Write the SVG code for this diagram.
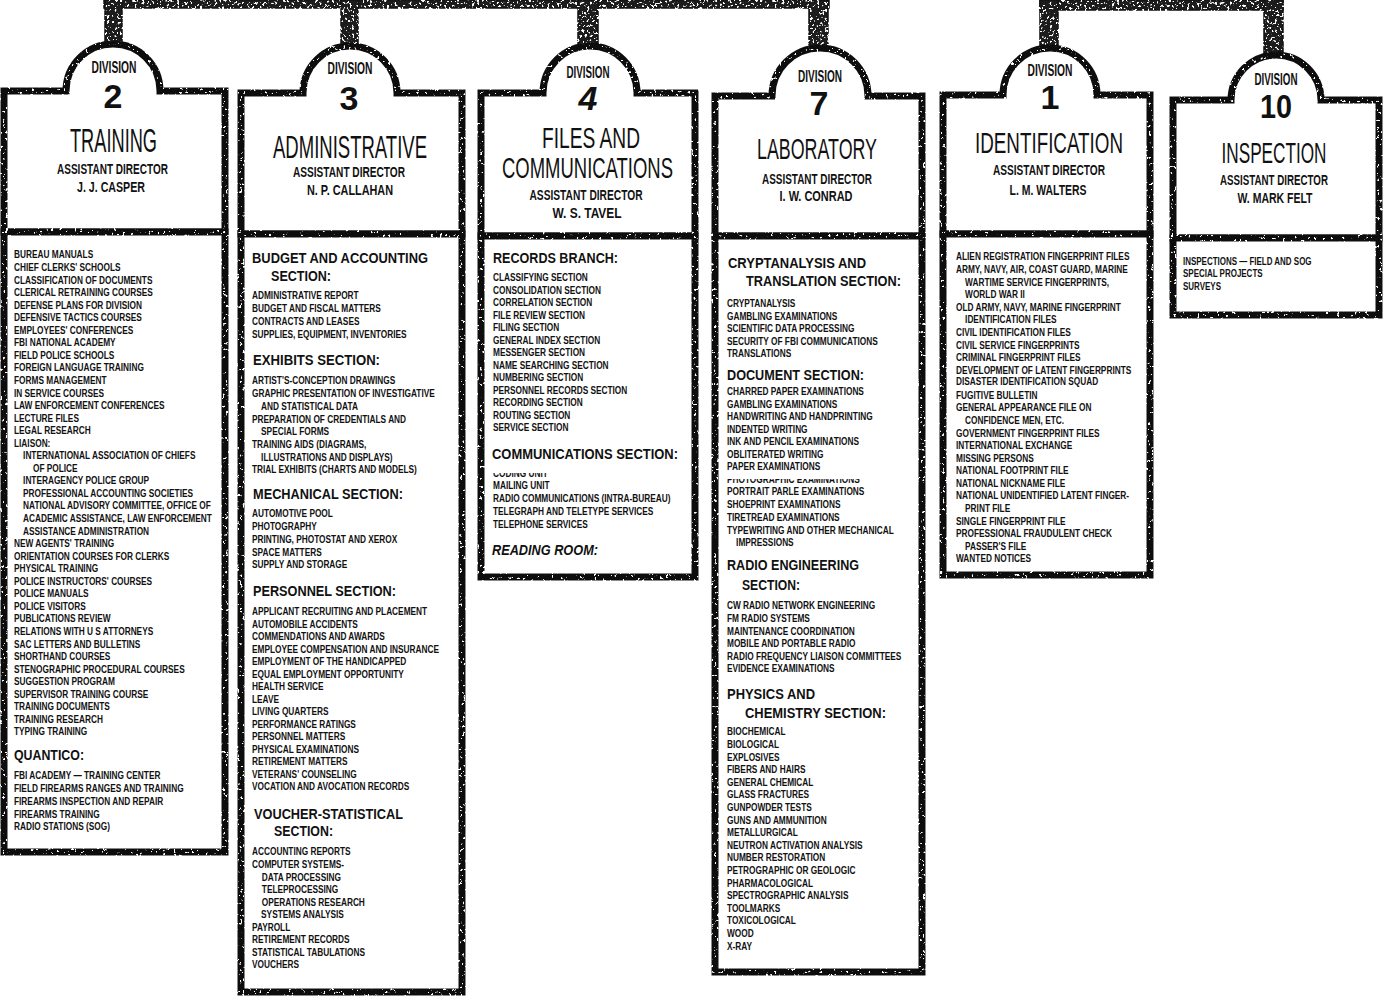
<svg xmlns="http://www.w3.org/2000/svg" width="1383" height="996" viewBox="0 0 1383 996">
<defs>
<style>
.frame{fill:#fff;stroke:#111;stroke-width:7;stroke-linejoin:miter;filter:url(#grit)}
.conn{fill:#1c1c1c;stroke:#111;stroke-width:1.5;filter:url(#grit2)}
.dv{font-family:"Liberation Sans",Arial,sans-serif;font-weight:bold;font-size:16px;text-anchor:middle;fill:#111}
.num{font-family:"Liberation Sans",Arial,sans-serif;font-weight:bold;font-size:34px;text-anchor:middle;fill:#111}
.ttl{font-family:"Liberation Sans",Arial,sans-serif;font-size:31px;text-anchor:middle;fill:#111}
.ad{font-family:"Liberation Sans",Arial,sans-serif;font-weight:bold;font-size:14px;text-anchor:middle;fill:#111}
.hd{font-family:"Liberation Sans",Arial,sans-serif;font-weight:bold;font-size:14px;fill:#111}
.li{font-family:"Liberation Sans",Arial,sans-serif;font-weight:bold;font-size:10.5px;fill:#111}
</style>
<filter id="grit">
<feTurbulence type="fractalNoise" baseFrequency="0.35" numOctaves="2" seed="4" result="n"/>
<feColorMatrix in="n" type="matrix" values="0 0 0 0 0  0 0 0 0 0  0 0 0 0 0  -16 0 0 0 11.4" result="m"/>
<feComposite in="SourceGraphic" in2="m" operator="in"/>
</filter>
<filter id="grit2">
<feTurbulence type="fractalNoise" baseFrequency="0.4" numOctaves="2" seed="9" result="n"/>
<feColorMatrix in="n" type="matrix" values="0 0 0 0 0  0 0 0 0 0  0 0 0 0 0  -14 0 0 0 9.3" result="m"/>
<feComposite in="SourceGraphic" in2="m" operator="in"/>
</filter>
<clipPath id="cut4"><rect x="480" y="473" width="220" height="10"/></clipPath>
<clipPath id="cut7"><rect x="715" y="479" width="210" height="10"/></clipPath>
</defs>
<rect width="1383" height="996" fill="#fff"/>

<g id="connectors">
<rect class="conn" x="104" y="0" width="725" height="8"/>
<rect class="conn" x="105" y="0" width="17" height="44"/>
<rect class="conn" x="341" y="0" width="17" height="46"/>
<rect class="conn" x="578" y="0" width="20" height="46"/>
<rect class="conn" x="809" y="0" width="19" height="47"/>
<rect class="conn" x="1040" y="0" width="243" height="10"/>
<rect class="conn" x="1040" y="0" width="18" height="48"/>
<rect class="conn" x="1264" y="0" width="19" height="54"/>
</g>

<g id="div2">
<path class="frame" d="M4,91 H66 A47,47 0 0 1 160,91 H225 V232 H4 Z"/>
<rect class="frame" x="4" y="232" width="221" height="620"/>
<text class="dv" x="114" y="73" textLength="45" lengthAdjust="spacingAndGlyphs">DIVISION</text>
<text class="num" x="113" y="108">2</text>
<text class="ttl" x="113.5" y="152" style="font-size:33px" textLength="87" lengthAdjust="spacingAndGlyphs">TRAINING</text>
<text class="ad" x="112.5" y="174" textLength="111" lengthAdjust="spacingAndGlyphs">ASSISTANT DIRECTOR</text>
<text class="ad" x="111" y="192" textLength="68" lengthAdjust="spacingAndGlyphs">J. J. CASPER</text>
<g transform="translate(14,0) scale(0.79,1)">
<text class="li" x="0" y="258.5">BUREAU MANUALS</text>
<text class="li" x="0" y="271.1">CHIEF CLERKS' SCHOOLS</text>
<text class="li" x="0" y="283.6">CLASSIFICATION OF DOCUMENTS</text>
<text class="li" x="0" y="296.2">CLERICAL RETRAINING COURSES</text>
<text class="li" x="0" y="308.7">DEFENSE PLANS FOR DIVISION</text>
<text class="li" x="0" y="321.3">DEFENSIVE TACTICS COURSES</text>
<text class="li" x="0" y="333.8">EMPLOYEES' CONFERENCES</text>
<text class="li" x="0" y="346.4">FBI NATIONAL ACADEMY</text>
<text class="li" x="0" y="358.9">FIELD POLICE SCHOOLS</text>
<text class="li" x="0" y="371.5">FOREIGN LANGUAGE TRAINING</text>
<text class="li" x="0" y="384">FORMS MANAGEMENT</text>
<text class="li" x="0" y="396.6">IN SERVICE COURSES</text>
<text class="li" x="0" y="409.1">LAW ENFORCEMENT CONFERENCES</text>
<text class="li" x="0" y="421.7">LECTURE FILES</text>
<text class="li" x="0" y="434.2">LEGAL RESEARCH</text>
<text class="li" x="0" y="446.8">LIAISON:</text>
<text class="li" x="11.5" y="459.3">INTERNATIONAL ASSOCIATION OF CHIEFS</text>
<text class="li" x="24" y="471.9">OF POLICE</text>
<text class="li" x="11.5" y="484.4">INTERAGENCY POLICE GROUP</text>
<text class="li" x="11.5" y="497">PROFESSIONAL ACCOUNTING SOCIETIES</text>
<text class="li" x="11.5" y="509.5">NATIONAL ADVISORY COMMITTEE, OFFICE OF</text>
<text class="li" x="11.5" y="522.1">ACADEMIC ASSISTANCE, LAW ENFORCEMENT</text>
<text class="li" x="11.5" y="534.6">ASSISTANCE ADMINISTRATION</text>
<text class="li" x="0" y="547.2">NEW AGENTS' TRAINING</text>
<text class="li" x="0" y="559.7">ORIENTATION COURSES FOR CLERKS</text>
<text class="li" x="0" y="572.3">PHYSICAL TRAINING</text>
<text class="li" x="0" y="584.8">POLICE INSTRUCTORS' COURSES</text>
<text class="li" x="0" y="597.4">POLICE MANUALS</text>
<text class="li" x="0" y="609.9">POLICE VISITORS</text>
<text class="li" x="0" y="622.5">PUBLICATIONS REVIEW</text>
<text class="li" x="0" y="635">RELATIONS WITH U S  ATTORNEYS</text>
<text class="li" x="0" y="647.6">SAC LETTERS AND BULLETINS</text>
<text class="li" x="0" y="660.1">SHORTHAND COURSES</text>
<text class="li" x="0" y="672.7">STENOGRAPHIC PROCEDURAL COURSES</text>
<text class="li" x="0" y="685.2">SUGGESTION PROGRAM</text>
<text class="li" x="0" y="697.8">SUPERVISOR TRAINING COURSE</text>
<text class="li" x="0" y="710.3">TRAINING DOCUMENTS</text>
<text class="li" x="0" y="722.9">TRAINING RESEARCH</text>
<text class="li" x="0" y="735.4">TYPING TRAINING</text>
<text class="li" x="0" y="779.5">FBI ACADEMY — TRAINING CENTER</text>
<text class="li" x="0" y="792.2">FIELD FIREARMS RANGES AND TRAINING</text>
<text class="li" x="0" y="805">FIREARMS INSPECTION AND REPAIR</text>
<text class="li" x="0" y="817.7">FIREARMS TRAINING</text>
<text class="li" x="0" y="830.5">RADIO STATIONS (SOG)</text>
</g>
<text class="hd" x="14" y="760" style="font-size:15px" textLength="70" lengthAdjust="spacingAndGlyphs">QUANTICO:</text>
</g>

<g id="div3">
<path class="frame" d="M241,93 H303 A47,47 0 0 1 397,93 H462 V234 H241 Z"/>
<rect class="frame" x="241" y="234" width="221" height="758"/>
<text class="dv" x="350" y="74" textLength="45" lengthAdjust="spacingAndGlyphs">DIVISION</text>
<text class="num" x="349" y="110">3</text>
<text class="ttl" x="350" y="158" style="font-size:32px" textLength="154" lengthAdjust="spacingAndGlyphs">ADMINISTRATIVE</text>
<text class="ad" x="349" y="177" textLength="112" lengthAdjust="spacingAndGlyphs">ASSISTANT DIRECTOR</text>
<text class="ad" x="350" y="195" textLength="86" lengthAdjust="spacingAndGlyphs">N. P. CALLAHAN</text>
<text class="hd" x="252" y="263" textLength="176" lengthAdjust="spacingAndGlyphs">BUDGET AND ACCOUNTING</text>
<text class="hd" x="271" y="281" textLength="60" lengthAdjust="spacingAndGlyphs">SECTION:</text>
<text class="hd" x="253" y="364.5" textLength="127" lengthAdjust="spacingAndGlyphs">EXHIBITS SECTION:</text>
<text class="hd" x="253" y="498.5" textLength="150" lengthAdjust="spacingAndGlyphs">MECHANICAL SECTION:</text>
<text class="hd" x="253" y="595.5" textLength="143" lengthAdjust="spacingAndGlyphs">PERSONNEL SECTION:</text>
<text class="hd" x="254" y="818.5" textLength="149" lengthAdjust="spacingAndGlyphs">VOUCHER-STATISTICAL</text>
<text class="hd" x="274" y="835.5" textLength="59" lengthAdjust="spacingAndGlyphs">SECTION:</text>
<g transform="translate(252,0) scale(0.79,1)">
<text class="li" x="0" y="299.5">ADMINISTRATIVE REPORT</text>
<text class="li" x="0" y="312.5">BUDGET AND FISCAL MATTERS</text>
<text class="li" x="0" y="325.5">CONTRACTS AND LEASES</text>
<text class="li" x="0" y="338.5">SUPPLIES, EQUIPMENT, INVENTORIES</text>
<text class="li" x="0" y="384.5">ARTIST'S-CONCEPTION DRAWINGS</text>
<text class="li" x="0" y="397.2">GRAPHIC PRESENTATION OF INVESTIGATIVE</text>
<text class="li" x="11.5" y="409.9">AND STATISTICAL DATA</text>
<text class="li" x="0" y="422.6">PREPARATION OF CREDENTIALS AND</text>
<text class="li" x="11.5" y="435.3">SPECIAL FORMS</text>
<text class="li" x="0" y="448">TRAINING AIDS (DIAGRAMS,</text>
<text class="li" x="11.5" y="460.7">ILLUSTRATIONS AND DISPLAYS)</text>
<text class="li" x="0" y="473.4">TRIAL EXHIBITS (CHARTS AND MODELS)</text>
<text class="li" x="0" y="517.5">AUTOMOTIVE POOL</text>
<text class="li" x="0" y="530.2">PHOTOGRAPHY</text>
<text class="li" x="0" y="543">PRINTING, PHOTOSTAT AND XEROX</text>
<text class="li" x="0" y="555.7">SPACE MATTERS</text>
<text class="li" x="0" y="568.5">SUPPLY AND STORAGE</text>
<text class="li" x="0" y="615.5">APPLICANT RECRUITING AND PLACEMENT</text>
<text class="li" x="0" y="628">AUTOMOBILE ACCIDENTS</text>
<text class="li" x="0" y="640.5">COMMENDATIONS AND AWARDS</text>
<text class="li" x="0" y="653">EMPLOYEE COMPENSATION AND INSURANCE</text>
<text class="li" x="0" y="665.5">EMPLOYMENT OF THE HANDICAPPED</text>
<text class="li" x="0" y="678">EQUAL EMPLOYMENT OPPORTUNITY</text>
<text class="li" x="0" y="690.5">HEALTH SERVICE</text>
<text class="li" x="0" y="703">LEAVE</text>
<text class="li" x="0" y="715.5">LIVING QUARTERS</text>
<text class="li" x="0" y="728">PERFORMANCE RATINGS</text>
<text class="li" x="0" y="740.5">PERSONNEL MATTERS</text>
<text class="li" x="0" y="753">PHYSICAL EXAMINATIONS</text>
<text class="li" x="0" y="765.5">RETIREMENT MATTERS</text>
<text class="li" x="0" y="778">VETERANS' COUNSELING</text>
<text class="li" x="0" y="790.5">VOCATION AND AVOCATION RECORDS</text>
<text class="li" x="0" y="855.5">ACCOUNTING REPORTS</text>
<text class="li" x="0" y="868">COMPUTER SYSTEMS-</text>
<text class="li" x="12.5" y="880.6">DATA PROCESSING</text>
<text class="li" x="12.5" y="893.2">TELEPROCESSING</text>
<text class="li" x="12.5" y="905.7">OPERATIONS RESEARCH</text>
<text class="li" x="11.5" y="918.3">SYSTEMS ANALYSIS</text>
<text class="li" x="0" y="930.8">PAYROLL</text>
<text class="li" x="0" y="943.4">RETIREMENT RECORDS</text>
<text class="li" x="0" y="956">STATISTICAL TABULATIONS</text>
<text class="li" x="0" y="968.5">VOUCHERS</text>
</g>
</g>

<g id="div4">
<path class="frame" d="M481,93 H543 A47,47 0 0 1 637,93 H695 V236 H481 Z"/>
<rect class="frame" x="481" y="236" width="214" height="341"/>
<text class="dv" x="588" y="78" textLength="43" lengthAdjust="spacingAndGlyphs">DIVISION</text>
<text class="num" x="588" y="110" font-style="italic">4</text>
<text class="ttl" x="591" y="148" style="font-size:30px" textLength="98" lengthAdjust="spacingAndGlyphs">FILES  AND</text>
<text class="ttl" x="587.5" y="178" style="font-size:30px" textLength="171" lengthAdjust="spacingAndGlyphs">COMMUNICATIONS</text>
<text class="ad" x="586" y="200" textLength="113" lengthAdjust="spacingAndGlyphs">ASSISTANT DIRECTOR</text>
<text class="ad" x="587" y="218" textLength="69" lengthAdjust="spacingAndGlyphs">W. S. TAVEL</text>
<text class="hd" x="493" y="262.5" textLength="125" lengthAdjust="spacingAndGlyphs">RECORDS BRANCH:</text>
<text class="hd" x="492" y="458.5" textLength="186" lengthAdjust="spacingAndGlyphs">COMMUNICATIONS SECTION:</text>
<text class="hd" x="492" y="554.5" font-style="italic" textLength="106" lengthAdjust="spacingAndGlyphs">READING ROOM:</text>
<g transform="translate(493,0) scale(0.79,1)">
<text class="li" x="0" y="281.5">CLASSIFYING SECTION</text>
<text class="li" x="0" y="294">CONSOLIDATION SECTION</text>
<text class="li" x="0" y="306.5">CORRELATION SECTION</text>
<text class="li" x="0" y="319">FILE REVIEW SECTION</text>
<text class="li" x="0" y="331.5">FILING SECTION</text>
<text class="li" x="0" y="344">GENERAL INDEX SECTION</text>
<text class="li" x="0" y="356.5">MESSENGER SECTION</text>
<text class="li" x="0" y="369">NAME SEARCHING SECTION</text>
<text class="li" x="0" y="381.5">NUMBERING SECTION</text>
<text class="li" x="0" y="394">PERSONNEL RECORDS SECTION</text>
<text class="li" x="0" y="406.5">RECORDING SECTION</text>
<text class="li" x="0" y="419">ROUTING SECTION</text>
<text class="li" x="0" y="431.5">SERVICE SECTION</text>
<text class="li" x="0" y="489.5">MAILING UNIT</text>
<text class="li" x="0" y="502.2">RADIO COMMUNICATIONS (INTRA-BUREAU)</text>
<text class="li" x="0" y="514.9">TELEGRAPH AND TELETYPE SERVICES</text>
<text class="li" x="0" y="527.6">TELEPHONE SERVICES</text>
</g>
<text class="li" x="493" y="477.5" clip-path="url(#cut4)" transform="translate(493,0) scale(0.79,1) translate(-493,0)">CODING UNIT</text>
</g>

<g id="div7">
<path class="frame" d="M715,96 H772 A48,48 0 0 1 868,96 H922 V236 H715 Z"/>
<rect class="frame" x="715" y="236" width="207" height="736"/>
<text class="dv" x="820" y="82" textLength="44" lengthAdjust="spacingAndGlyphs">DIVISION</text>
<text class="num" x="819" y="115">7</text>
<text class="ttl" x="817" y="159" style="font-size:29px" textLength="120" lengthAdjust="spacingAndGlyphs">LABORATORY</text>
<text class="ad" x="817" y="184" textLength="110" lengthAdjust="spacingAndGlyphs">ASSISTANT DIRECTOR</text>
<text class="ad" x="816" y="201" textLength="73" lengthAdjust="spacingAndGlyphs">I. W. CONRAD</text>
<text class="hd" x="728" y="267.5" textLength="138" lengthAdjust="spacingAndGlyphs">CRYPTANALYSIS AND</text>
<text class="hd" x="746" y="285.5" textLength="155" lengthAdjust="spacingAndGlyphs">TRANSLATION SECTION:</text>
<text class="hd" x="727" y="379.5" textLength="137" lengthAdjust="spacingAndGlyphs">DOCUMENT SECTION:</text>
<text class="hd" x="727" y="569.5" textLength="132" lengthAdjust="spacingAndGlyphs">RADIO ENGINEERING</text>
<text class="hd" x="742" y="589.5" textLength="58" lengthAdjust="spacingAndGlyphs">SECTION:</text>
<text class="hd" x="727" y="698.5" textLength="88" lengthAdjust="spacingAndGlyphs">PHYSICS AND</text>
<text class="hd" x="745" y="717.5" textLength="141" lengthAdjust="spacingAndGlyphs">CHEMISTRY SECTION:</text>
<g transform="translate(727,0) scale(0.79,1)">
<text class="li" x="0" y="307.5">CRYPTANALYSIS</text>
<text class="li" x="0" y="320">GAMBLING EXAMINATIONS</text>
<text class="li" x="0" y="332.5">SCIENTIFIC DATA PROCESSING</text>
<text class="li" x="0" y="345">SECURITY OF FBI COMMUNICATIONS</text>
<text class="li" x="0" y="357.5">TRANSLATIONS</text>
<text class="li" x="0" y="395.5">CHARRED PAPER EXAMINATIONS</text>
<text class="li" x="0" y="408">GAMBLING EXAMINATIONS</text>
<text class="li" x="0" y="420.5">HANDWRITING AND HANDPRINTING</text>
<text class="li" x="0" y="433">INDENTED WRITING</text>
<text class="li" x="0" y="445.5">INK AND PENCIL EXAMINATIONS</text>
<text class="li" x="0" y="458">OBLITERATED WRITING</text>
<text class="li" x="0" y="470.5">PAPER EXAMINATIONS</text>
<text class="li" x="0" y="495.5">PORTRAIT PARLE EXAMINATIONS</text>
<text class="li" x="0" y="508.2">SHOEPRINT EXAMINATIONS</text>
<text class="li" x="0" y="521">TIRETREAD EXAMINATIONS</text>
<text class="li" x="0" y="533.7">TYPEWRITING AND OTHER MECHANICAL</text>
<text class="li" x="11.5" y="546.5">IMPRESSIONS</text>
<text class="li" x="0" y="609.5">CW RADIO NETWORK ENGINEERING</text>
<text class="li" x="0" y="622.1">FM RADIO SYSTEMS</text>
<text class="li" x="0" y="634.7">MAINTENANCE COORDINATION</text>
<text class="li" x="0" y="647.3">MOBILE AND PORTABLE RADIO</text>
<text class="li" x="0" y="659.9">RADIO FREQUENCY LIAISON COMMITTEES</text>
<text class="li" x="0" y="672.5">EVIDENCE EXAMINATIONS</text>
<text class="li" x="0" y="735.5">BIOCHEMICAL</text>
<text class="li" x="0" y="748.1">BIOLOGICAL</text>
<text class="li" x="0" y="760.7">EXPLOSIVES</text>
<text class="li" x="0" y="773.3">FIBERS AND HAIRS</text>
<text class="li" x="0" y="785.9">GENERAL CHEMICAL</text>
<text class="li" x="0" y="798.5">GLASS FRACTURES</text>
<text class="li" x="0" y="811.1">GUNPOWDER TESTS</text>
<text class="li" x="0" y="823.7">GUNS AND AMMUNITION</text>
<text class="li" x="0" y="836.3">METALLURGICAL</text>
<text class="li" x="0" y="848.9">NEUTRON ACTIVATION ANALYSIS</text>
<text class="li" x="0" y="861.5">NUMBER RESTORATION</text>
<text class="li" x="0" y="874.1">PETROGRAPHIC OR GEOLOGIC</text>
<text class="li" x="0" y="886.7">PHARMACOLOGICAL</text>
<text class="li" x="0" y="899.3">SPECTROGRAPHIC ANALYSIS</text>
<text class="li" x="0" y="911.9">TOOLMARKS</text>
<text class="li" x="0" y="924.5">TOXICOLOGICAL</text>
<text class="li" x="0" y="937.1">WOOD</text>
<text class="li" x="0" y="949.7">X-RAY</text>
</g>
<text class="li" x="727" y="483.5" clip-path="url(#cut7)" transform="translate(727,0) scale(0.79,1) translate(-727,0)">PHOTOGRAPHIC EXAMINATIONS</text>
</g>

<g id="div1">
<path class="frame" d="M943,95 H1003 A47,47 0 0 1 1097,95 H1150 V234 H943 Z"/>
<rect class="frame" x="943" y="234" width="207" height="341"/>
<text class="dv" x="1050" y="76" textLength="45" lengthAdjust="spacingAndGlyphs">DIVISION</text>
<text class="num" x="1050" y="109">1</text>
<text class="ttl" x="1049" y="153" style="font-size:30px" textLength="148" lengthAdjust="spacingAndGlyphs">IDENTIFICATION</text>
<text class="ad" x="1049" y="175" textLength="112" lengthAdjust="spacingAndGlyphs">ASSISTANT DIRECTOR</text>
<text class="ad" x="1048" y="195" textLength="77" lengthAdjust="spacingAndGlyphs">L. M. WALTERS</text>
<g transform="translate(956,0) scale(0.79,1)">
<text class="li" x="0" y="260.5">ALIEN REGISTRATION FINGERPRINT FILES</text>
<text class="li" x="0" y="273.1">ARMY, NAVY, AIR, COAST GUARD, MARINE</text>
<text class="li" x="11.5" y="285.7">WARTIME  SERVICE FINGERPRINTS,</text>
<text class="li" x="11.5" y="298.2">WORLD WAR II</text>
<text class="li" x="0" y="310.8">OLD ARMY, NAVY, MARINE FINGERPRINT</text>
<text class="li" x="11.5" y="323.4">IDENTIFICATION FILES</text>
<text class="li" x="0" y="336">CIVIL IDENTIFICATION FILES</text>
<text class="li" x="0" y="348.6">CIVIL SERVICE FINGERPRINTS</text>
<text class="li" x="0" y="361.1">CRIMINAL FINGERPRINT FILES</text>
<text class="li" x="0" y="373.7">DEVELOPMENT OF LATENT FINGERPRINTS</text>
<text class="li" x="0" y="385.5">DISASTER IDENTIFICATION SQUAD</text>
<text class="li" x="0" y="398.9">FUGITIVE BULLETIN</text>
<text class="li" x="0" y="411.5">GENERAL APPEARANCE FILE ON</text>
<text class="li" x="11.5" y="424">CONFIDENCE MEN, ETC.</text>
<text class="li" x="0" y="436.6">GOVERNMENT FINGERPRINT FILES</text>
<text class="li" x="0" y="449.2">INTERNATIONAL EXCHANGE</text>
<text class="li" x="0" y="461.8">MISSING PERSONS</text>
<text class="li" x="0" y="474.4">NATIONAL FOOTPRINT FILE</text>
<text class="li" x="0" y="487">NATIONAL NICKNAME FILE</text>
<text class="li" x="0" y="499.5">NATIONAL UNIDENTIFIED LATENT FINGER-</text>
<text class="li" x="11.5" y="512.1">PRINT FILE</text>
<text class="li" x="0" y="524.7">SINGLE FINGERPRINT FILE</text>
<text class="li" x="0" y="537.3">PROFESSIONAL FRAUDULENT CHECK</text>
<text class="li" x="11.5" y="549.9">PASSER'S FILE</text>
<text class="li" x="0" y="562.5">WANTED NOTICES</text>
</g>
</g>

<g id="div10">
<path class="frame" d="M1173,100 H1231 A45,45 0 0 1 1321,100 H1379 V238 H1173 Z"/>
<rect class="frame" x="1173" y="238" width="206" height="77"/>
<text class="dv" x="1276" y="85" textLength="43" lengthAdjust="spacingAndGlyphs">DIVISION</text>
<text class="num" x="1276" y="118" textLength="32" lengthAdjust="spacingAndGlyphs">10</text>
<text class="ttl" x="1274" y="163" style="font-size:29px" textLength="105" lengthAdjust="spacingAndGlyphs">INSPECTION</text>
<text class="ad" x="1274" y="185" textLength="108" lengthAdjust="spacingAndGlyphs">ASSISTANT DIRECTOR</text>
<text class="ad" x="1275" y="203" textLength="75" lengthAdjust="spacingAndGlyphs">W. MARK FELT</text>
<g transform="translate(1183,0) scale(0.76,1)">
<text class="li" x="0" y="265.5">INSPECTIONS — FIELD AND SOG</text>
<text class="li" x="0" y="277.5">SPECIAL PROJECTS</text>
<text class="li" x="0" y="290.5">SURVEYS</text>
</g>
</g>
</svg>
